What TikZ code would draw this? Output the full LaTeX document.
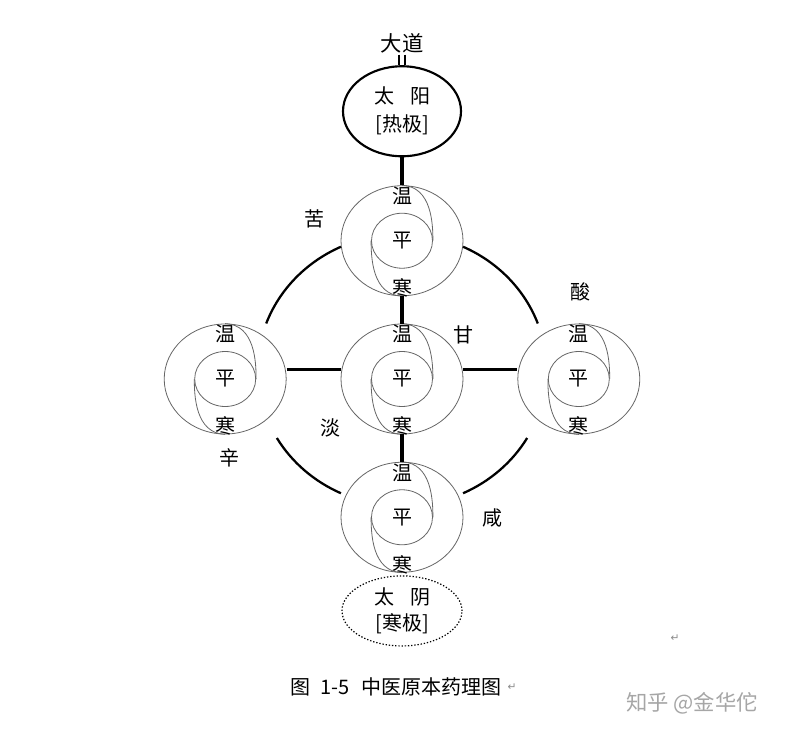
\documentclass[tikz,border=0pt]{standalone}
\usepackage{fontspec}
\newfontfamily\cjk{Noto Sans CJK SC}
\newfontfamily\symfont{DejaVu Sans}
\usetikzlibrary{positioning, shapes.geometric, calc}

\tikzset{
  unit/.style={ellipse, draw=black!60, line width=0.6pt, minimum width=91.5pt, minimum height=82.5pt, inner sep=0pt},
  core/.style={ellipse, draw=black!60, line width=0.6pt, minimum width=45.75pt, minimum height=41.25pt, inner sep=0pt, font=\cjk\fontsize{15}{15}\selectfont},
  swirl/.style={draw=black!60, line width=0.6pt},
  qi/.style={inner sep=1pt, font=\cjk\fontsize{15}{15}\selectfont},
  tag/.style={inner sep=1pt, font=\cjk\fontsize{15}{15}\selectfont},
  pole/.style={ellipse, inner sep=0pt, minimum width=88.5pt, minimum height=67.5pt, align=center, font=\cjk\fontsize{15}{21}\selectfont},
  bar/.style={line width=2.6pt},
  ring/.style={line width=1.7pt},
  retmark/.style={inner sep=0pt, text=black!45, font=\symfont\fontsize{8}{8}\selectfont}
}

\begin{document}
\begin{tikzpicture}[x=0.75pt, y=-0.75pt, node distance=20.6pt and 40.5pt]
\useasboundingbox[fill=white] (0,0) rectangle (800,738);
\node[unit] (c) at (402,379) {};
\node[unit, above=of c] (t) {};
\node[unit, below=of c] (b) {};
\node[unit, left=of c] (l) {};
\node[unit, right=of c] (r) {};

\foreach \q in {t,l,c,r,b} {
  \node[core] (mid\q) at (\q) {平};
  \draw[swirl] (\q.north) .. controls +(30,1) and +(0,-16) .. (mid\q.east);
  \draw[swirl] (\q.south) .. controls +(-30,-1) and +(0,16) .. (mid\q.west);
  \node[qi, below=0pt of \q.north] (wen\q) {温};
  \node[qi, above=-2pt of \q.south] (han\q) {寒};
}

\node[pole, draw, line width=1.6pt, above=21pt of t] (sun) {太\hspace{12pt}阳\\{}[热极]};
\node[pole, draw, line width=0.9pt, dash pattern=on 1pt off 1.4pt, minimum width=90pt, minimum height=52.5pt, below=2pt of b, font=\cjk\fontsize{15}{19}\selectfont] (moon) {太\hspace{12pt}阴\\{}[寒极]};
\node[tag, font=\cjk\fontsize{16}{16}\selectfont, above=8pt of sun] (dadao) {大道};
\draw[line width=1.5pt] ([xshift=-2.2pt]dadao.south) -- ([xshift=-2.2pt]sun.north);
\draw[line width=1.5pt] ([xshift=2.2pt]dadao.south) -- ([xshift=2.2pt]sun.north);

\draw[bar] (sun) -- (t);
\draw[bar] (t) -- (c);
\draw[bar] (c) -- (b);
\draw[bar] ([yshift=7pt]l.east) -- ([yshift=7pt]c.west);
\draw[bar] ([yshift=7pt]c.east) -- ([yshift=7pt]r.west);

\coordinate (hub) at (402,370);
\foreach \s/\e in {30/65, 115/150, 200/245, 295/340}
  \draw[ring] ($(hub)+({144.5*cos(\s)},{136*sin(\s)})$) arc[start angle=\s, end angle=\e, x radius=144.5, y radius=136];

\node[tag] (ku) at (314,219) {苦};
\node[tag] (suan) at (580,292) {酸};
\node[tag] (gan) at (463,335) {甘};
\node[tag] (dan) at (330,428) {淡};
\node[tag] (xin) at (229,458) {辛};
\node[tag] (xian) at (492,518) {咸};

\node[font=\cjk\fontsize{15}{15}\selectfont] (cap) at (396,687) {图\hspace{7pt}1-5\hspace{9pt}中医原本药理图};
\node[retmark, right=1pt of cap] (ret1) {↵};
\node[retmark] (ret2) at (675,638) {↵};
\node[text=black!35, font=\cjk\fontsize{16}{16}\selectfont] (zhihu) at (692,703) {知乎 @金华佗};
\end{tikzpicture}
\end{document}
